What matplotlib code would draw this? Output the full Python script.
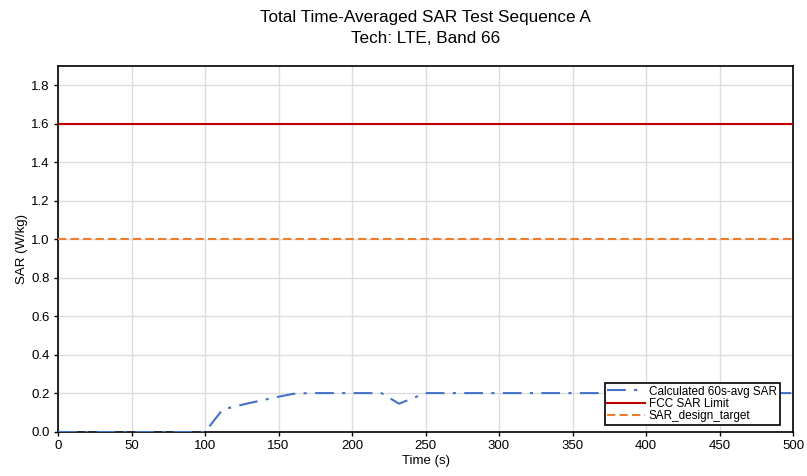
import matplotlib
matplotlib.use("Agg")
import matplotlib.pyplot as plt

plt.rcParams['font.family'] = ['Liberation Sans', 'DejaVu Sans']

time_s = [0, 100, 112, 130, 150, 160, 170, 220, 232, 250, 500]
sar_avg = [0, 0, 0.117, 0.15, 0.183, 0.198, 0.202, 0.202, 0.147, 0.202, 0.202]
fcc_limit = 1.6
design_target = 1.0
x_ticks = [0, 50, 100, 150, 200, 250, 300, 350, 400, 450, 500]
y_ticks = [0.0, 0.2, 0.4, 0.6, 0.8, 1.0, 1.2, 1.4, 1.6, 1.8]

fig = plt.figure(figsize=(8.07, 4.76), dpi=100)
ax = fig.add_axes([58/807, 1-432/476, (793-58)/807, (432-66)/476])

ax.plot(time_s, sar_avg, color='#4472C4', lw=1.5, linestyle=(0, (9, 4, 1.5, 4)),
        label='Calculated 60s-avg SAR', zorder=3)
ax.axhline(fcc_limit, color='#C00000', lw=1.5, label='FCC SAR Limit', zorder=3)
ax.axhline(design_target, color='#ED7D31', lw=1.5, linestyle=(0, (4, 2)),
           label='SAR_design_target', zorder=3)

ax.set_xlim(0, 500)
ax.set_ylim(0, 1.9)
ax.set_xticks(x_ticks)
ax.set_yticks(y_ticks)
ax.set_yticklabels([f'{v:.1f}' for v in y_ticks])
ax.grid(True, color='#DDDDDD', lw=1)
ax.set_axisbelow(True)
for s in ax.spines.values():
    s.set_linewidth(1.2)
ax.tick_params(labelsize=9.5, length=3, width=1, pad=3)

ax.set_xlabel('Time (s)', fontsize=9.5, labelpad=2)
ax.set_ylabel('SAR (W/kg)', fontsize=9.5, labelpad=2)
fig.suptitle('Total Time-Averaged SAR Test Sequence A\nTech: LTE, Band 66',
             fontsize=12.3, y=0.978, x=(58+793)/2/807, linespacing=1.45)

leg = ax.legend(loc='lower right', bbox_to_anchor=(0.982, 0.019), borderaxespad=0,
                fontsize=8.5, frameon=True, fancybox=False, framealpha=1,
                edgecolor='black', handlelength=3.2, handletextpad=0.3,
                labelspacing=0.02, borderpad=0.25)
leg.get_frame().set_linewidth(1.2)

fig.savefig('out.png', dpi=100)
